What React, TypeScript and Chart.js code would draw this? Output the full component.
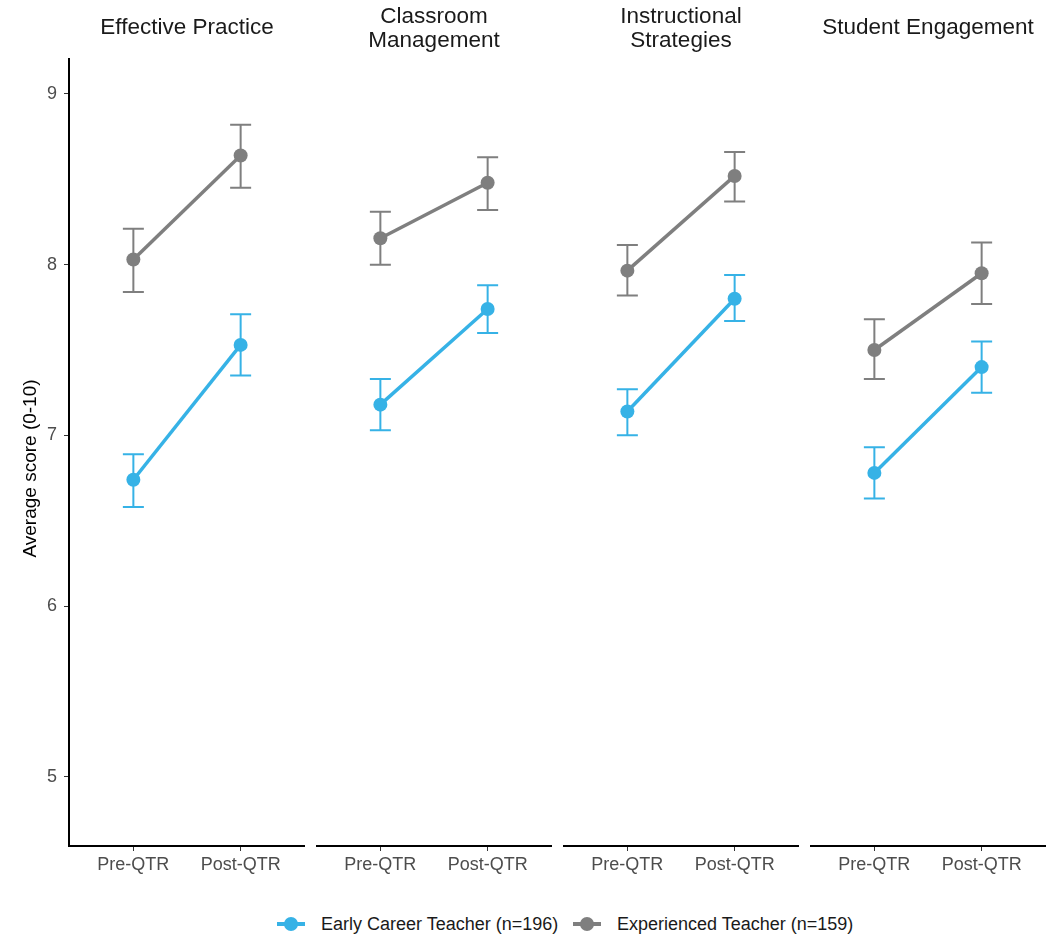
import { useEffect, useRef } from 'react';
import { Chart, registerables } from 'chart.js';

Chart.register(...registerables);

// Facet headings (one entry per panel, split into display lines)
const facetTitles: string[][] = [
  ['Effective Practice'],
  ['Classroom', 'Management'],
  ['Instructional', 'Strategies'],
  ['Student Engagement'],
];
const timeLabels = ['Pre-QTR', 'Post-QTR'];
const yTicks = [5, 6, 7, 8, 9];
const yTitle = 'Average score (0-10)';
const seriesNames = ['Early Career Teacher (n=196)', 'Experienced Teacher (n=159)'];

// Early career teachers: [pre, post] per facet
const earlyMean = [[6.74, 7.53], [7.18, 7.74], [7.14, 7.80], [6.78, 7.40]];
const earlyLow = [[6.58, 7.35], [7.03, 7.60], [7.00, 7.67], [6.63, 7.25]];
const earlyHigh = [[6.89, 7.71], [7.33, 7.88], [7.27, 7.94], [6.93, 7.55]];

// Experienced teachers: [pre, post] per facet
const expMean = [[8.03, 8.64], [8.155, 8.48], [7.965, 8.52], [7.50, 7.95]];
const expLow = [[7.84, 8.45], [8.00, 8.32], [7.82, 8.37], [7.33, 7.77]];
const expHigh = [[8.21, 8.82], [8.31, 8.63], [8.115, 8.66], [7.68, 8.13]];

const FONT = '"Liberation Sans", Arial, sans-serif';
const BLUE = '#36B2E6';
const GREY = '#7F7F7F';
const Y_MIN = 4.594;
const Y_MAX = 9.205;

// Canvas placement of each panel
const PANEL_LEFT = [0, 316, 563, 810];
const PANEL_WIDTH = [305, 236, 236, 236];
const CANVAS_H = 880;
const Y_AXIS_W = 69;

function errorBars(i: number) {
  return {
    id: 'errorBars',
    beforeDatasetsDraw(chart: any) {
      const { ctx, scales } = chart;
      const x = scales.x;
      const y = scales.y;
      const groups: [number[][], number[][], string][] = [
        [expLow, expHigh, GREY],
        [earlyLow, earlyHigh, BLUE],
      ];
      ctx.save();
      ctx.lineWidth = 2;
      for (const [lo, hi, color] of groups) {
        ctx.strokeStyle = color;
        lo[i].forEach((l, k) => {
          const px = x.getPixelForValue(k + 1);
          const y1 = y.getPixelForValue(l);
          const y2 = y.getPixelForValue(hi[i][k]);
          ctx.beginPath();
          ctx.moveTo(px, y1);
          ctx.lineTo(px, y2);
          ctx.moveTo(px - 10.5, y1);
          ctx.lineTo(px + 10.5, y1);
          ctx.moveTo(px - 10.5, y2);
          ctx.lineTo(px + 10.5, y2);
          ctx.stroke();
        });
      }
      ctx.restore();
    },
  };
}

// Rotated y-axis title, centred on the panel plus its x-axis label strip
const yAxisTitle = {
  id: 'yAxisTitle',
  afterDraw(chart: any) {
    const { ctx, chartArea } = chart;
    const cy = (chartArea.top + chartArea.bottom + 32) / 2;
    ctx.save();
    ctx.translate(31, cy);
    ctx.rotate(-Math.PI / 2);
    ctx.font = `19px ${FONT}`;
    ctx.fillStyle = '#000000';
    ctx.textAlign = 'center';
    ctx.textBaseline = 'middle';
    ctx.fillText(yTitle, 0, 0);
    ctx.restore();
  },
};

function panelConfig(i: number): any {
  const series = (label: string, means: number[][], color: string) => ({
    label,
    data: means[i].map((v, k) => ({ x: k + 1, y: v })),
    borderColor: color,
    backgroundColor: color,
    pointBackgroundColor: color,
    borderWidth: 3.5,
    pointRadius: 7,
    pointHoverRadius: 7,
    pointBorderWidth: 0,
    tension: 0,
    fill: false,
  });
  const twoLine = facetTitles[i].length > 1;
  const showY = i === 0;
  return {
    type: 'line',
    data: {
      datasets: [series(seriesNames[1], expMean, GREY), series(seriesNames[0], earlyMean, BLUE)],
    },
    options: {
      responsive: false,
      animation: false,
      events: [],
      layout: { padding: 0, autoPadding: false },
      plugins: {
        legend: { display: false },
        tooltip: { enabled: false },
        title: {
          display: true,
          fullSize: false,
          text: facetTitles[i],
          color: '#1A1A1A',
          font: { family: FONT, size: 22.5, weight: 'normal', lineHeight: 1.067 },
          padding: twoLine ? { top: 5, bottom: 6 } : { top: 16, bottom: 19 },
        },
      },
      scales: {
        x: {
          type: 'linear',
          min: 0.4,
          max: 2.6,
          afterBuildTicks: (s: any) => {
            s.ticks = [{ value: 1 }, { value: 2 }];
          },
          afterFit: (s: any) => {
            s.height = 34;
          },
          ticks: {
            callback: (v: number) => timeLabels[v - 1] ?? '',
            color: '#4D4D4D',
            font: { family: FONT, size: 18 },
            padding: 3,
            autoSkip: false,
            maxRotation: 0,
          },
          grid: { drawOnChartArea: false, tickLength: 5, color: '#333333', lineWidth: 1 },
          border: { display: true, color: '#000000', width: 2 },
        },
        y: {
          display: showY,
          min: Y_MIN,
          max: Y_MAX,
          afterBuildTicks: (s: any) => {
            s.ticks = yTicks.map((v) => ({ value: v }));
          },
          afterFit: (s: any) => {
            s.width = showY ? Y_AXIS_W : 0;
          },
          ticks: {
            color: '#4D4D4D',
            font: { family: FONT, size: 18 },
            padding: 7,
          },
          grid: { drawOnChartArea: false, tickLength: 5, color: '#333333', lineWidth: 1 },
          border: { display: true, color: '#000000', width: 2 },
        },
      },
    },
    plugins: showY ? [errorBars(i), yAxisTitle] : [errorBars(i)],
  };
}

function LegendItem({ color, label, left }: { color: string; label: string; left: number }) {
  return (
    <>
      <div style={{ position: 'absolute', left, top: 922.25, width: 28, height: 3.5, background: color }} />
      <div
        style={{
          position: 'absolute',
          left: left + 7,
          top: 917,
          width: 14,
          height: 14,
          borderRadius: '50%',
          background: color,
        }}
      />
      <div
        style={{
          position: 'absolute',
          left: left + 44,
          top: 913,
          height: 22,
          lineHeight: '22px',
          fontSize: 18,
          fontFamily: FONT,
          color: '#1A1A1A',
          whiteSpace: 'nowrap',
        }}
      >
        {label}
      </div>
    </>
  );
}

export default function App() {
  const refs = [useRef<HTMLCanvasElement>(null), useRef<HTMLCanvasElement>(null), useRef<HTMLCanvasElement>(null), useRef<HTMLCanvasElement>(null)];

  useEffect(() => {
    const charts = refs.map((r, i) => new Chart(r.current as HTMLCanvasElement, panelConfig(i)));
    return () => charts.forEach((c) => c.destroy());
  }, []);

  return (
    <div style={{ position: 'absolute', left: 0, top: 0, width: 1063, height: 936, background: '#FFFFFF', overflow: 'hidden' }}>
      {refs.map((r, i) => (
        <canvas
          key={i}
          ref={r}
          width={PANEL_WIDTH[i]}
          height={CANVAS_H}
          style={{ position: 'absolute', left: PANEL_LEFT[i], top: 0, width: PANEL_WIDTH[i], height: CANVAS_H }}
        />
      ))}
      <LegendItem color={BLUE} label={seriesNames[0]} left={277} />
      <LegendItem color={GREY} label={seriesNames[1]} left={573} />
    </div>
  );
}
